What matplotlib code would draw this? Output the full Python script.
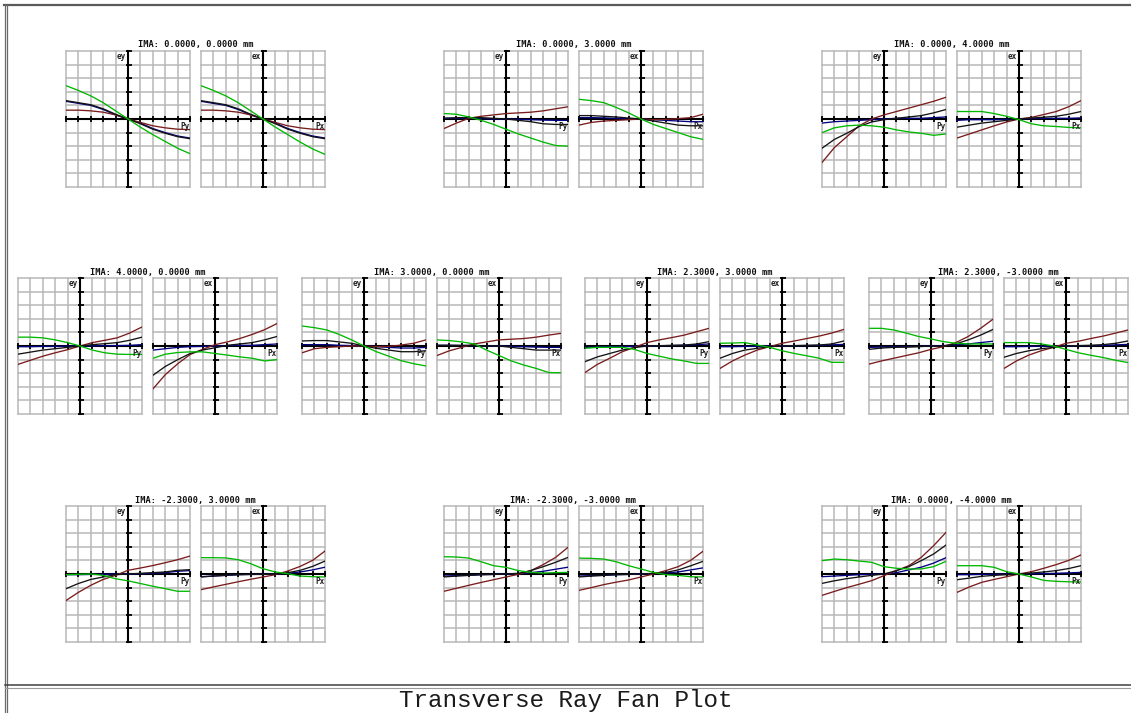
import numpy as np
import matplotlib
matplotlib.use("Agg")
import matplotlib.pyplot as plt

W, H = 1131, 713

# pupil coordinate (Py / Px) where the fans were read
pupil = [-1.0, -0.8, -0.6, -0.4, -0.2, 0.0, 0.2, 0.4, 0.6, 0.8, 1.0]

# field points, row by row
fields = [
    "IMA: 0.0000, 0.0000 mm", "IMA: 0.0000, 3.0000 mm", "IMA: 0.0000, 4.0000 mm",
    "IMA: 4.0000, 0.0000 mm", "IMA: 3.0000, 0.0000 mm", "IMA: 2.3000, 3.0000 mm",
    "IMA: 2.3000, -3.0000 mm",
    "IMA: -2.3000, 3.0000 mm", "IMA: -2.3000, -3.0000 mm", "IMA: 0.0000, -4.0000 mm",
]

# wavelengths: green, black, maroon, navy
colors = ["#00b800", "#141414", "#7a1c1c", "#000080"]

# ray errors in grid divisions (plot is -5..5 divisions), rows = wavelengths
fan_a_ey = [[2.45, 2.1, 1.7, 1.2, 0.6, 0, -0.6, -1.15, -1.65, -2.15, -2.55],
            [1.35, 1.2, 1.05, 0.75, 0.35, 0, -0.35, -0.75, -1.05, -1.3, -1.45],
            [0.65, 0.65, 0.6, 0.5, 0.3, 0, -0.25, -0.5, -0.65, -0.75, -0.78],
            [1.3, 1.15, 1.0, 0.7, 0.3, 0, -0.3, -0.7, -1.0, -1.25, -1.4]]
fan_a_ex = [[2.45, 2.1, 1.7, 1.2, 0.6, 0, -0.6, -1.15, -1.7, -2.2, -2.6],
            [1.35, 1.2, 1.05, 0.75, 0.35, 0, -0.35, -0.75, -1.05, -1.3, -1.45],
            [0.65, 0.65, 0.6, 0.5, 0.3, 0, -0.25, -0.5, -0.65, -0.75, -0.78],
            [1.3, 1.15, 1.0, 0.7, 0.3, 0, -0.3, -0.7, -1.0, -1.25, -1.4]]

fan_b_ey = [[0.4, 0.35, 0.15, -0.1, -0.4, -0.75, -1.1, -1.4, -1.7, -1.95, -2.0],
            [0.05, 0.1, 0.1, 0.1, 0.05, 0, -0.1, -0.2, -0.35, -0.4, -0.4],
            [-0.7, -0.3, 0.05, 0.2, 0.3, 0.4, 0.45, 0.5, 0.6, 0.75, 0.9],
            [0.05, 0.05, 0.05, 0.03, 0.0, 0, -0.03, -0.05, -0.08, -0.1, -0.1]]
fan_b_ex = [[1.45, 1.35, 1.2, 0.85, 0.45, 0, -0.4, -0.7, -1.0, -1.3, -1.5],
            [0.25, 0.25, 0.2, 0.15, 0.07, 0, -0.15, -0.3, -0.45, -0.5, -0.5],
            [-0.45, -0.25, -0.15, -0.1, -0.05, 0, -0.05, -0.03, 0.03, 0.1, 0.35],
            [0.1, 0.1, 0.08, 0.05, 0.02, 0, -0.05, -0.1, -0.15, -0.2, -0.2]]

fan_c_ey = [[-1.0, -0.65, -0.5, -0.45, -0.5, -0.6, -0.8, -0.95, -1.05, -1.2, -1.1],
            [-2.15, -1.5, -1.05, -0.55, -0.22, -0.05, 0.05, 0.15, 0.25, 0.45, 0.7],
            [-3.2, -2.1, -1.3, -0.5, 0.0, 0.3, 0.55, 0.8, 1.05, 1.3, 1.6],
            [-0.3, -0.2, -0.15, -0.1, -0.05, 0, 0.05, 0.05, 0.05, 0.1, 0.15]]
fan_c_ex = [[0.55, 0.55, 0.55, 0.4, 0.2, -0.05, -0.35, -0.5, -0.55, -0.62, -0.65],
            [-0.6, -0.45, -0.3, -0.2, -0.1, 0, 0.07, 0.13, 0.2, 0.35, 0.55],
            [-1.4, -1.1, -0.8, -0.5, -0.22, 0, 0.12, 0.33, 0.55, 0.9, 1.35],
            [-0.1, -0.05, -0.05, -0.05, -0.03, 0, 0.03, 0.05, 0.05, 0.05, 0.08]]

fan_d_ey = [[0.65, 0.65, 0.6, 0.45, 0.25, 0, -0.3, -0.5, -0.6, -0.62, -0.62],
            [-0.6, -0.45, -0.3, -0.2, -0.1, 0, 0.1, 0.17, 0.25, 0.42, 0.65],
            [-1.35, -1.05, -0.75, -0.5, -0.27, 0, 0.25, 0.42, 0.6, 0.95, 1.4],
            [-0.05, -0.05, -0.03, -0.03, 0, 0, 0, 0.03, 0.03, 0.05, 0.1]]
fan_d_ex = [[-0.9, -0.6, -0.48, -0.43, -0.43, -0.55, -0.67, -0.8, -0.9, -1.1, -1.0],
            [-2.15, -1.5, -1.0, -0.55, -0.3, -0.13, 0.05, 0.15, 0.25, 0.45, 0.7],
            [-3.15, -2.1, -1.3, -0.62, -0.25, 0.1, 0.3, 0.55, 0.85, 1.2, 1.65],
            [-0.3, -0.2, -0.1, -0.05, -0.03, 0, 0.03, 0.05, 0.05, 0.1, 0.15]]

fan_e_ey = [[1.47, 1.35, 1.18, 0.85, 0.45, 0, -0.42, -0.75, -1.08, -1.3, -1.47],
            [0.37, 0.4, 0.4, 0.3, 0.2, 0, -0.17, -0.3, -0.42, -0.42, -0.35],
            [-0.5, -0.2, -0.1, -0.05, 0, 0, -0.05, -0.03, 0.07, 0.2, 0.45],
            [0.1, 0.1, 0.1, 0.05, 0.03, 0, -0.05, -0.1, -0.15, -0.15, -0.1]]
fan_e_ex = [[0.45, 0.4, 0.3, 0.15, -0.3, -0.7, -1.1, -1.4, -1.65, -1.95, -1.97],
            [0.05, 0.05, 0.05, 0.05, 0.0, 0, -0.1, -0.2, -0.3, -0.3, -0.3],
            [-0.7, -0.35, -0.1, 0.15, 0.3, 0.45, 0.5, 0.55, 0.65, 0.8, 0.93],
            [0.05, 0.05, 0.03, 0.02, 0, 0, -0.03, -0.05, -0.08, -0.1, -0.1]]

fan_f_ey = [[-0.17, -0.1, -0.1, -0.1, -0.25, -0.55, -0.75, -0.95, -1.1, -1.28, -1.28],
            [-1.15, -0.8, -0.55, -0.3, -0.12, 0, 0.02, 0.05, 0.07, 0.15, 0.32],
            [-1.95, -1.35, -0.9, -0.42, -0.1, 0.25, 0.45, 0.62, 0.8, 1.05, 1.3],
            [-0.1, -0.08, -0.05, -0.05, -0.02, 0, 0.02, 0.03, 0.05, 0.1, 0.15]]
fan_f_ex = [[0.2, 0.22, 0.25, 0.07, -0.1, -0.35, -0.55, -0.72, -0.9, -1.2, -1.2],
            [-0.9, -0.55, -0.3, -0.17, -0.05, 0, 0.03, 0.05, 0.07, 0.15, 0.37],
            [-1.65, -1.1, -0.67, -0.3, -0.05, 0.2, 0.37, 0.55, 0.73, 0.95, 1.22],
            [-0.05, -0.05, -0.03, -0.02, 0, 0, 0.02, 0.03, 0.05, 0.08, 0.12]]

fan_g_ey = [[1.3, 1.3, 1.18, 0.95, 0.7, 0.52, 0.32, 0.2, 0.15, 0.15, 0.15],
            [-0.25, -0.15, -0.1, -0.08, -0.05, 0, 0, 0.15, 0.45, 0.8, 1.22],
            [-1.33, -1.1, -0.9, -0.7, -0.5, -0.25, -0.05, 0.25, 0.7, 1.3, 1.97],
            [-0.1, -0.08, -0.05, -0.05, -0.03, 0, 0.03, 0.08, 0.15, 0.25, 0.35]]
fan_g_ex = [[0.25, 0.25, 0.25, 0.15, 0, -0.25, -0.5, -0.68, -0.85, -1.05, -1.22],
            [-0.83, -0.55, -0.35, -0.2, -0.1, 0, 0.03, 0.05, 0.1, 0.2, 0.37],
            [-1.65, -1.1, -0.67, -0.35, -0.1, 0.2, 0.35, 0.55, 0.73, 0.95, 1.18],
            [-0.05, -0.05, -0.03, -0.02, 0, 0, 0.02, 0.03, 0.05, 0.08, 0.12]]

fan_h_ey = [[-0.05, -0.02, 0, -0.1, -0.35, -0.5, -0.7, -0.9, -1.08, -1.27, -1.27],
            [-1.08, -0.7, -0.4, -0.22, -0.05, 0, 0.05, 0.1, 0.15, 0.27, 0.32],
            [-1.95, -1.35, -0.83, -0.4, -0.1, 0.27, 0.44, 0.62, 0.83, 1.05, 1.32],
            [-0.05, -0.05, -0.03, -0.02, 0, 0, 0.02, 0.05, 0.1, 0.2, 0.25]]
fan_h_ex = [[1.2, 1.2, 1.18, 1.05, 0.76, 0.39, 0.15, 0.02, -0.15, -0.2, -0.22],
            [-0.22, -0.15, -0.1, -0.05, -0.03, -0.03, 0, 0.1, 0.27, 0.56, 0.95],
            [-1.15, -0.95, -0.76, -0.57, -0.39, -0.22, -0.05, 0.22, 0.56, 1.0, 1.69],
            [-0.2, -0.15, -0.1, -0.05, -0.03, -0.02, 0, 0.05, 0.15, 0.3, 0.5]]

fan_i_ey = [[1.27, 1.25, 1.17, 0.9, 0.61, 0.49, 0.25, 0.12, 0.07, 0.1, 0.12],
            [-0.22, -0.15, -0.1, -0.05, -0.03, 0, 0.05, 0.25, 0.54, 0.86, 1.22],
            [-1.27, -1.05, -0.83, -0.62, -0.42, -0.22, -0.02, 0.25, 0.69, 1.22, 1.96],
            [-0.15, -0.12, -0.1, -0.05, -0.03, 0, 0.02, 0.1, 0.2, 0.35, 0.5]]
fan_i_ex = [[1.17, 1.15, 1.1, 0.9, 0.61, 0.37, 0.12, -0.05, -0.1, -0.2, -0.22],
            [-0.22, -0.15, -0.1, -0.05, -0.03, 0, 0.05, 0.12, 0.3, 0.6, 0.93],
            [-1.2, -1.0, -0.78, -0.6, -0.44, -0.22, 0, 0.25, 0.54, 1.0, 1.67],
            [-0.15, -0.12, -0.1, -0.05, -0.03, 0, 0.02, 0.08, 0.15, 0.3, 0.45]]

fan_j_ey = [[0.98, 1.1, 1.05, 0.95, 0.86, 0.54, 0.42, 0.37, 0.37, 0.54, 0.93],
            [-0.69, -0.5, -0.34, -0.22, -0.1, 0, 0.25, 0.54, 0.98, 1.47, 2.13],
            [-1.57, -1.28, -1.0, -0.75, -0.49, -0.12, 0.25, 0.61, 1.22, 2.08, 3.06],
            [-0.2, -0.15, -0.1, -0.05, -0.03, 0, 0.1, 0.3, 0.5, 0.8, 1.2]]
fan_j_ex = [[0.61, 0.61, 0.61, 0.49, 0.17, 0, -0.22, -0.47, -0.54, -0.57, -0.59],
            [-0.42, -0.3, -0.17, -0.1, -0.05, 0, 0.07, 0.15, 0.25, 0.4, 0.61],
            [-1.35, -0.95, -0.61, -0.4, -0.2, 0, 0.17, 0.42, 0.69, 1.0, 1.4],
            [-0.05, -0.05, -0.03, -0.02, 0, 0, 0.02, 0.03, 0.05, 0.08, 0.12]]

fans_ey = [fan_a_ey, fan_b_ey, fan_c_ey, fan_d_ey, fan_e_ey,
           fan_f_ey, fan_g_ey, fan_h_ey, fan_i_ey, fan_j_ey]
fans_ex = [fan_a_ex, fan_b_ex, fan_c_ex, fan_d_ex, fan_e_ex,
           fan_f_ex, fan_g_ex, fan_h_ex, fan_i_ex, fan_j_ex]

# layout in pixels (top-left origin)
row_tops = [51, 278, 506]
row_lefts = [[66, 444, 822], [18, 302, 585, 869], [66, 444, 822]]
pw, ph, pair_step = 124, 136, 135
grid_col = "#b8b8b8"
small_font = "DejaVu Sans Mono"


def add_px_axes(fig, left, top, w, h):
    return fig.add_axes([left / W, 1 - (top + h) / H, w / W, h / H])


def draw_fan(ax, fan, vlabel, hlabel):
    ax.set_xlim(-1, 1)
    ax.set_ylim(-5, 5)
    ax.axis("off")
    for g in np.linspace(-1, 1, 11):
        ax.axvline(g, color=grid_col, lw=1.1, zorder=1, clip_on=False)
    for g in range(-5, 6):
        ax.axhline(g, color=grid_col, lw=1.1, zorder=1, clip_on=False)
    ax.axhline(0, color="black", lw=1.5, zorder=2, clip_on=False)
    ax.axvline(0, color="black", lw=1.5, zorder=2, clip_on=False)
    # little ticks along both axes, one per grid division
    ax.plot(np.linspace(-1, 1, 11), np.zeros(11), ls="none", marker="|",
            ms=5, mew=1.3, color="black", zorder=2, clip_on=False)
    ax.plot(np.full(11, 0.02), np.arange(-5, 6), ls="none", marker="_",
            ms=4.5, mew=1.3, color="black", zorder=2, clip_on=False)
    # navy first so the others sit on top
    for i in [3, 2, 1, 0]:
        ax.plot(pupil, fan[i], color=colors[i], lw=0.95, zorder=3 + (3 - i))
    ax.text(-0.04, 4.9, vlabel, ha="right", va="top", fontsize=5.5,
            family=small_font, weight="bold", color="#202020", zorder=8)
    ax.text(0.99, -0.25, hlabel, ha="right", va="top", fontsize=5.5,
            family=small_font, weight="bold", color="#202020", zorder=8)


fig = plt.figure(figsize=(W / 100, H / 100), dpi=100)
fig.patch.set_facecolor("white")

frame = fig.add_axes([0, 0, 1, 1])
frame.set_xlim(0, W)
frame.set_ylim(H, 0)
frame.axis("off")
frame.plot([4, W], [5, 5], color="#5a5a5a", lw=1.6)
frame.plot([4.5, 4.5], [5, H], color="#6a6a6a", lw=0.9)
frame.plot([6.8, 6.8], [5, H], color="#6a6a6a", lw=0.9)
frame.plot([5, W], [685, 685], color="#404040", lw=1.1)
frame.plot([5, W], [687.5, 687.5], color="#9a9a9a", lw=0.8)
frame.text(566, 701, "Transverse Ray Fan Plot", ha="center", va="center",
           fontsize=17.5, family="Liberation Mono", color="#1a1a1a")

k = 0
for top, lefts in zip(row_tops, row_lefts):
    for left in lefts:
        ax_l = add_px_axes(fig, left, top, pw, ph)
        draw_fan(ax_l, fans_ey[k], "ey", "Py")
        ax_r = add_px_axes(fig, left + pair_step, top, pw, ph)
        draw_fan(ax_r, fans_ex[k], "ex", "Px")
        frame.text(left + (pair_step + pw) / 2, top - 6, fields[k],
                   ha="center", va="center", fontsize=6.2,
                   family=small_font, weight="bold", color="#101010")
        k += 1

fig.savefig("out.png", dpi=100)
